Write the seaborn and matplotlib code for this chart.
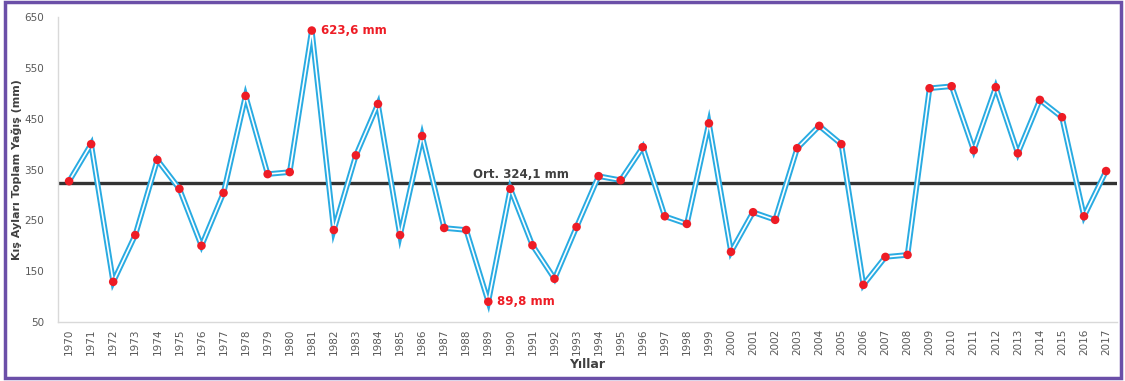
import seaborn as sns
import matplotlib.pyplot as plt
from matplotlib.patches import Rectangle

years = list(range(1970, 2018))
rain = [327, 400, 129, 221, 369, 312, 200, 304, 495, 341,
        345, 623.6, 231, 378, 479, 221, 416, 235, 231, 89.8,
        312, 201, 135, 237, 337, 329, 394, 258, 243, 441,
        188, 266, 251, 392, 436, 400, 123, 178, 182, 510,
        514, 388, 512, 382, 487, 453, 258, 347]
mean_rain = 324.1
y_ticks = [50, 150, 250, 350, 450, 550, 650]

sns.set_style('white')
plt.rcParams['font.family'] = ['DejaVu Sans']

fig = plt.figure(figsize=(11.25, 3.81), dpi=100)
ax = fig.add_axes([0.0516, 0.155, 0.9414, 0.80])

# double line: thick blue with a thin white core
sns.lineplot(x=years, y=rain, ax=ax, color='#29abe2', lw=4.0,
             solid_joinstyle='miter', zorder=2)
sns.lineplot(x=years, y=rain, ax=ax, color='white', lw=1.2, zorder=3)
sns.scatterplot(x=years, y=rain, ax=ax, color='#ee1c25', s=38,
                edgecolor='none', zorder=4)

ax.axhline(mean_rain, color='#333333', lw=2.4, zorder=1)
ax.text(1990.5, mean_rain + 3, 'Ort. 324,1 mm', ha='center', va='bottom',
        fontsize=8.5, fontweight='bold', color='#404040')

i_max = rain.index(max(rain))
i_min = rain.index(min(rain))
ax.text(years[i_max] + 0.4, rain[i_max], '623,6 mm', ha='left', va='center',
        fontsize=8.5, fontweight='bold', color='#ee1c25')
ax.text(years[i_min] + 0.4, rain[i_min], '89,8 mm', ha='left', va='center',
        fontsize=8.5, fontweight='bold', color='#ee1c25')

ax.set_xlim(1969.5, 2017.5)
ax.set_ylim(50, 650)
ax.set_yticks(y_ticks)
ax.set_xticks(years)
ax.set_xticklabels([str(y) for y in years], rotation=90)
ax.tick_params(axis='both', length=0, labelsize=7.5, colors='#595959')
ax.tick_params(axis='y', pad=10)
ax.tick_params(axis='x', pad=5)

for s in ['top', 'right']:
    ax.spines[s].set_visible(False)
for s in ['left', 'bottom']:
    ax.spines[s].set_color('#d9d9d9')
    ax.spines[s].set_linewidth(1)

ax.set_ylabel('Kış Ayları Toplam Yağış (mm)', fontsize=8, fontweight='bold',
              color='#404040', labelpad=2)
ax.set_xlabel('Yıllar', fontsize=9, fontweight='bold', color='#404040', labelpad=2)

fig.patches.append(Rectangle((0.004, 0.008), 0.992, 0.986, transform=fig.transFigure,
                             fill=False, edgecolor='#6b4fa8', lw=2.5))

fig.savefig('out.png', dpi=100)
